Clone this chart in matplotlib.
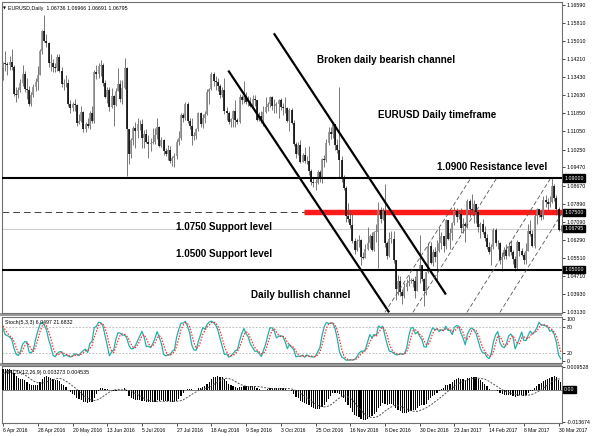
import numpy as np
import pandas as pd
import matplotlib
matplotlib.use("Agg")
import matplotlib.pyplot as plt
import matplotlib.transforms as mtransforms
from matplotlib.patches import Rectangle

# ---------------- data (EURUSD daily) ----------------
# warm-up bars before the visible window (needed for indicator history)
close_warm = [1.0890, 1.0920, 1.1105, 1.1210, 1.1155, 1.1165, 1.1285, 1.1290, 1.1325, 1.1255,
              1.1150, 1.1145, 1.1125, 1.1100, 1.1130, 1.1020, 1.1020, 1.1015, 1.1025, 1.0935,
              1.0875, 1.0870, 1.0865, 1.0955, 1.1005, 1.1010, 1.1005, 1.0995, 1.1180, 1.1150,
              1.1105, 1.1095, 1.1225, 1.1315, 1.1270, 1.1240, 1.1220, 1.1180, 1.1180, 1.1165,
              1.1195, 1.1300, 1.1335, 1.1380, 1.1390, 1.1390, 1.1380]
high_warm = [1.0900, 1.0935, 1.1115, 1.1215, 1.1245, 1.1200, 1.1305, 1.1300, 1.1375, 1.1320,
             1.1255, 1.1190, 1.1160, 1.1140, 1.1140, 1.1065, 1.1045, 1.1030, 1.1045, 1.1070,
             1.0965, 1.0900, 1.0880, 1.0965, 1.1025, 1.1025, 1.1035, 1.1035, 1.1215, 1.1215,
             1.1155, 1.1150, 1.1240, 1.1340, 1.1335, 1.1275, 1.1245, 1.1225, 1.1190, 1.1185,
             1.1205, 1.1310, 1.1340, 1.1390, 1.1415, 1.1405, 1.1440]
low_warm = [1.0835, 1.0865, 1.0905, 1.1080, 1.1130, 1.1090, 1.1150, 1.1200, 1.1270, 1.1230,
            1.1140, 1.1115, 1.1110, 1.1070, 1.1070, 1.1005, 1.0990, 1.0960, 1.0985, 1.0920,
            1.0860, 1.0855, 1.0820, 1.0860, 1.0925, 1.0990, 1.0990, 1.0965, 1.0820, 1.1100,
            1.1090, 1.1065, 1.1055, 1.1215, 1.1255, 1.1235, 1.1160, 1.1170, 1.1145, 1.1160,
            1.1160, 1.1175, 1.1290, 1.1310, 1.1345, 1.1375, 1.1360]

# 6 Apr 2016 - 30 Jun 2016
close_q2_2016 = [1.1405, 1.1400, 1.1395, 1.1410, 1.1385, 1.1270, 1.1265, 1.1285, 1.1315, 1.1355,
                 1.1290, 1.1285, 1.1225, 1.1265, 1.1300, 1.1320, 1.1350, 1.1455,
                 1.1545, 1.1500, 1.1490, 1.1405, 1.1405, 1.1385, 1.1380, 1.1430, 1.1370, 1.1310,
                 1.1315, 1.1315, 1.1225, 1.1205, 1.1225, 1.1220, 1.1140, 1.1150, 1.1190, 1.1115,
                 1.1135, 1.1130,
                 1.1185, 1.1150, 1.1365, 1.1355, 1.1390, 1.1395, 1.1315, 1.1255, 1.1285, 1.1210,
                 1.1260, 1.1220, 1.1280, 1.1310, 1.1245, 1.1295, 1.1380, 1.1115, 1.1005, 1.1065,
                 1.1120, 1.1105]
high_q2_2016 = [1.1410, 1.1455, 1.1410, 1.1435, 1.1465, 1.1395, 1.1300, 1.1300, 1.1335, 1.1395,
                1.1370, 1.1340, 1.1305, 1.1275, 1.1310, 1.1340, 1.1390, 1.1465,
                1.1550, 1.1616, 1.1530, 1.1495, 1.1445, 1.1420, 1.1405, 1.1445, 1.1445, 1.1385,
                1.1335, 1.1350, 1.1335, 1.1240, 1.1235, 1.1245, 1.1225, 1.1180, 1.1215, 1.1195,
                1.1145, 1.1165,
                1.1195, 1.1215, 1.1375, 1.1395, 1.1405, 1.1415, 1.1405, 1.1330, 1.1300, 1.1300,
                1.1295, 1.1265, 1.1295, 1.1380, 1.1330, 1.1330, 1.1425, 1.1385, 1.1110, 1.1075,
                1.1130, 1.1145]
low_q2_2016 = [1.1330, 1.1370, 1.1350, 1.1375, 1.1375, 1.1260, 1.1235, 1.1250, 1.1275, 1.1305,
               1.1275, 1.1245, 1.1215, 1.1215, 1.1255, 1.1280, 1.1285, 1.1355,
               1.1445, 1.1495, 1.1475, 1.1385, 1.1370, 1.1365, 1.1365, 1.1370, 1.1365, 1.1300,
               1.1285, 1.1300, 1.1215, 1.1185, 1.1195, 1.1195, 1.1130, 1.1135, 1.1145, 1.1100,
               1.1100, 1.1120,
               1.1115, 1.1140, 1.1140, 1.1335, 1.1340, 1.1345, 1.1305, 1.1250, 1.1230, 1.1195,
               1.1205, 1.1130, 1.1215, 1.1290, 1.1235, 1.1225, 1.1290, 1.0910, 1.0960, 1.0990,
               1.1045, 1.1030]

# 1 Jul 2016 - 30 Sep 2016
close_q3_2016 = [1.1135, 1.1135, 1.1075, 1.1095, 1.1060, 1.1050, 1.1055, 1.1060, 1.1090, 1.1125,
                 1.1040, 1.1065, 1.1020, 1.1005, 1.1025, 1.0975, 1.0990, 1.0995, 1.1060, 1.1075,
                 1.1175,
                 1.1165, 1.1225, 1.1150, 1.1130, 1.1085, 1.1085, 1.1115, 1.1185, 1.1135, 1.1165,
                 1.1180, 1.1275, 1.1290, 1.1355, 1.1325, 1.1320, 1.1305, 1.1265, 1.1285, 1.1195,
                 1.1185, 1.1145, 1.1160,
                 1.1195, 1.1155, 1.1145, 1.1255, 1.1240, 1.1260, 1.1235, 1.1235, 1.1215, 1.1245,
                 1.1240, 1.1155, 1.1170, 1.1155, 1.1190, 1.1210, 1.1225, 1.1255, 1.1215, 1.1215,
                 1.1225, 1.1240]
high_q3_2016 = [1.1165, 1.1155, 1.1160, 1.1110, 1.1115, 1.1090, 1.1075, 1.1120, 1.1120, 1.1165,
                1.1130, 1.1080, 1.1070, 1.1030, 1.1045, 1.1040, 1.0995, 1.1010, 1.1070, 1.1105,
                1.1185,
                1.1185, 1.1235, 1.1235, 1.1165, 1.1165, 1.1100, 1.1120, 1.1190, 1.1190, 1.1180,
                1.1195, 1.1290, 1.1295, 1.1365, 1.1365, 1.1345, 1.1340, 1.1310, 1.1300, 1.1340,
                1.1210, 1.1195, 1.1165,
                1.1200, 1.1240, 1.1165, 1.1270, 1.1265, 1.1325, 1.1275, 1.1260, 1.1255, 1.1265,
                1.1265, 1.1240, 1.1190, 1.1195, 1.1215, 1.1255, 1.1235, 1.1260, 1.1260, 1.1245,
                1.1235, 1.1245]
low_q3_2016 = [1.1075, 1.1110, 1.1030, 1.1030, 1.1055, 1.0990, 1.1020, 1.1050, 1.1050, 1.1070,
               1.1035, 1.1035, 1.1000, 1.0995, 1.0980, 1.0965, 1.0955, 1.0950, 1.0985, 1.1045,
               1.1065,
               1.1145, 1.1155, 1.1140, 1.1115, 1.1045, 1.1065, 1.1070, 1.1105, 1.1125, 1.1120,
               1.1140, 1.1175, 1.1225, 1.1285, 1.1305, 1.1285, 1.1280, 1.1250, 1.1255, 1.1180,
               1.1155, 1.1135, 1.1125,
               1.1125, 1.1125, 1.1135, 1.1140, 1.1225, 1.1230, 1.1225, 1.1215, 1.1210, 1.1215,
               1.1215, 1.1150, 1.1150, 1.1140, 1.1130, 1.1185, 1.1195, 1.1210, 1.1200, 1.1185,
               1.1185, 1.1165]

# 3 Oct 2016 - 30 Dec 2016
close_q4_2016 = [1.1210, 1.1205, 1.1205, 1.1150, 1.1200, 1.1140, 1.1050, 1.1005, 1.1045, 1.0970,
                 1.1000, 1.0975, 1.0975, 1.0930, 1.0885, 1.0880, 1.0880, 1.0925, 1.0895, 1.0985,
                 1.0980,
                 1.1055, 1.1100, 1.1095, 1.1135, 1.1045, 1.1025, 1.0980, 1.0895, 1.0855, 1.0735,
                 1.0720, 1.0695, 1.0625, 1.0585, 1.0625, 1.0630, 1.0555, 1.0550, 1.0590, 1.0615,
                 1.0645, 1.0585,
                 1.0665, 1.0665, 1.0760, 1.0720, 1.0755, 1.0615, 1.0560, 1.0635, 1.0635, 1.0540,
                 1.0415, 1.0450, 1.0400, 1.0385, 1.0425, 1.0440, 1.0450, 1.0455, 1.0450, 1.0405,
                 1.0495, 1.0520]
high_q4_2016 = [1.1250, 1.1230, 1.1255, 1.1210, 1.1205, 1.1205, 1.1155, 1.1060, 1.1060, 1.1065,
                1.1010, 1.1035, 1.0995, 1.1040, 1.0940, 1.0905, 1.0895, 1.0935, 1.0935, 1.0990,
                1.1000,
                1.1070, 1.1125, 1.1125, 1.1145, 1.1060, 1.1070, 1.1300, 1.0995, 1.0915, 1.0865,
                1.0790, 1.0750, 1.0745, 1.0640, 1.0635, 1.0650, 1.0635, 1.0575, 1.0610, 1.0685,
                1.0655, 1.0665,
                1.0670, 1.0700, 1.0795, 1.0775, 1.0770, 1.0875, 1.0625, 1.0665, 1.0670, 1.0670,
                1.0495, 1.0475, 1.0470, 1.0415, 1.0440, 1.0460, 1.0475, 1.0465, 1.0465, 1.0470,
                1.0500, 1.0650]
low_q4_2016 = [1.1200, 1.1175, 1.1185, 1.1145, 1.1105, 1.1135, 1.1040, 1.0990, 1.1000, 1.0965,
               1.0970, 1.0965, 1.0960, 1.0915, 1.0870, 1.0860, 1.0850, 1.0875, 1.0885, 1.0880,
               1.0950,
               1.0970, 1.1045, 1.1070, 1.1075, 1.1025, 1.1010, 1.0905, 1.0885, 1.0850, 1.0710,
               1.0710, 1.0680, 1.0615, 1.0570, 1.0580, 1.0600, 1.0520, 1.0545, 1.0550, 1.0585,
               1.0595, 1.0580,
               1.0580, 1.0620, 1.0505, 1.0705, 1.0715, 1.0600, 1.0545, 1.0555, 1.0615, 1.0530,
               1.0365, 1.0390, 1.0385, 1.0350, 1.0375, 1.0405, 1.0430, 1.0440, 1.0425, 1.0375,
               1.0405, 1.0440]

# 2 Jan 2017 - 31 Mar 2017
close_q1_2017 = [1.0460, 1.0405, 1.0490, 1.0605, 1.0530, 1.0575, 1.0555, 1.0580, 1.0615, 1.0645,
                 1.0605, 1.0715, 1.0635, 1.0660, 1.0705, 1.0755, 1.0730, 1.0745, 1.0680, 1.0700,
                 1.0690, 1.0800,
                 1.0765, 1.0760, 1.0785, 1.0750, 1.0685, 1.0700, 1.0665, 1.0640, 1.0600, 1.0575,
                 1.0600, 1.0675, 1.0615, 1.0615, 1.0540, 1.0555, 1.0585, 1.0560, 1.0605, 1.0575,
                 1.0545, 1.0505, 1.0620, 1.0580, 1.0565, 1.0540, 1.0580, 1.0670, 1.0655, 1.0605,
                 1.0735, 1.0765, 1.0740, 1.0730, 1.0805, 1.0795, 1.0785, 1.0795, 1.0865, 1.0815,
                 1.0765, 1.06736, 1.06795]
high_q1_2017 = [1.0495, 1.0465, 1.0490, 1.0615, 1.0620, 1.0590, 1.0600, 1.0630, 1.0685, 1.0665,
                1.0635, 1.0720, 1.0715, 1.0680, 1.0710, 1.0775, 1.0770, 1.0760, 1.0770, 1.0725,
                1.0710, 1.0810,
                1.0810, 1.0830, 1.0805, 1.0780, 1.0760, 1.0710, 1.0720, 1.0690, 1.0655, 1.0620,
                1.0610, 1.0680, 1.0680, 1.0630, 1.0620, 1.0575, 1.0600, 1.0610, 1.0620, 1.0630,
                1.0585, 1.0560, 1.0630, 1.0610, 1.0595, 1.0575, 1.0615, 1.0700, 1.0715, 1.0675,
                1.0745, 1.0770, 1.0765, 1.0755, 1.0820, 1.0825, 1.0815, 1.0820, 1.0905, 1.0875,
                1.0825, 1.0775, 1.06966]
low_q1_2017 = [1.0450, 1.0340, 1.0390, 1.0485, 1.0525, 1.0515, 1.0535, 1.0455, 1.0575, 1.0590,
               1.0575, 1.0590, 1.0630, 1.0590, 1.0630, 1.0695, 1.0710, 1.0720, 1.0660, 1.0660,
               1.0620, 1.0680,
               1.0730, 1.0750, 1.0705, 1.0705, 1.0665, 1.0640, 1.0655, 1.0625, 1.0590, 1.0570,
               1.0520, 1.0590, 1.0605, 1.0590, 1.0525, 1.0495, 1.0545, 1.0545, 1.0560, 1.0565,
               1.0525, 1.0495, 1.0500, 1.0560, 1.0560, 1.0525, 1.0525, 1.0580, 1.0645, 1.0600,
               1.0595, 1.0700, 1.0730, 1.0715, 1.0720, 1.0775, 1.0760, 1.0775, 1.0790, 1.0800,
               1.0740, 1.0670, 1.06691]
first_open = 1.0865

date_labels = ["6 Apr 2016", "28 Apr 2016", "20 May 2016", "13 Jun 2016", "5 Jul 2016",
               "27 Jul 2016", "18 Aug 2016", "9 Sep 2016", "3 Oct 2016", "25 Oct 2016",
               "16 Nov 2016", "8 Dec 2016", "30 Dec 2016", "23 Jan 2017", "14 Feb 2017",
               "8 Mar 2017", "30 Mar 2017"]
price_ticks = [1.16590, 1.15810, 1.15010, 1.14210, 1.13430, 1.12630, 1.11850, 1.11050,
               1.10250, 1.09470, 1.08670, 1.07890, 1.07090, 1.06290, 1.05510, 1.04710,
               1.03930, 1.03130]
level_prices = [1.09000, 1.07500, 1.05000]
last_price = 1.06795
macd_range = [-0.013674, 0.009528]

# user-drawn trend lines (bar index, price)
bear_line_1 = [(103.8, 1.1371), (177.9, 1.0313)]
bear_line_2 = [(124.8, 1.1534), (204.1, 1.0391)]
bull_channel = [[(176.0, 1.0313), (215.7, 1.0902)],
                [(188.9, 1.0313), (227.6, 1.0902)],
                [(213.8, 1.0313), (252.5, 1.0902)],
                [(229.0, 1.0313), (258.1, 1.0754)]]

# ---------------- assemble ----------------
close_all = np.array(close_warm + close_q2_2016 + close_q3_2016 + close_q4_2016 + close_q1_2017)
high_all = np.array(high_warm + high_q2_2016 + high_q3_2016 + high_q4_2016 + high_q1_2017)
low_all = np.array(low_warm + low_q2_2016 + low_q3_2016 + low_q4_2016 + low_q1_2017)
open_all = np.concatenate([[first_open], close_all[:-1]])
high_all = np.maximum(high_all, np.maximum(open_all, close_all))
low_all = np.minimum(low_all, np.minimum(open_all, close_all))

nw = len(close_warm)
cs = pd.Series(close_all)
hs = pd.Series(high_all)
ls = pd.Series(low_all)
# Stochastic (5,3,3), MetaTrader style
ll = ls.rolling(5).min()
hh = hs.rolling(5).max()
k = 100 * (cs - ll).rolling(3).sum() / (hh - ll).rolling(3).sum()
d = k.rolling(3).mean()
# MACD (12,26,9), MetaTrader style (signal = SMA)
macd = cs.ewm(span=12, adjust=False).mean() - cs.ewm(span=26, adjust=False).mean()
sig = macd.rolling(9).mean()

o = open_all[nw:]; c = close_all[nw:]; h = high_all[nw:]; l = low_all[nw:]
k = k.values[nw:]; d = d.values[nw:]; macd = macd.values[nw:]; sig = sig.values[nw:]
x = np.arange(len(c))

# ---------------- figure ----------------
W, H = 600, 436
fig = plt.figure(figsize=(6, 4.36), dpi=100)
fig.patch.set_facecolor("white")
def ax_at(top, bottom):
    return fig.add_axes([2 / W, 1 - bottom / H, 560 / W, (bottom - top) / H])
ax1 = ax_at(2, 313.0)
ax2 = ax_at(316.5, 362.5)
ax3 = ax_at(366.0, 423)

# splitters between the sub-windows
for top, bot in ((313.0, 316.5), (362.5, 366.0)):
    fig.add_artist(Rectangle((0, 1 - bot / H), 562 / W, (bot - top) / H,
                             transform=fig.transFigure, fc="#9a9a9a", ec="none", zorder=0))

SF = ["Liberation Sans", "DejaVu Sans"]
xlim = (-0.5, len(c) - 0.4)
small = 3.8
for ax in (ax1, ax2, ax3):
    ax.set_xlim(*xlim)
    for s in ax.spines.values():
        s.set_color("#707070")
        s.set_linewidth(0.8)
    ax.yaxis.tick_right()
    ax.tick_params(axis="y", length=2, width=0.5, labelsize=small, pad=1.5, colors="black")
    ax.set_facecolor("white")
ax1.set_xticks([]); ax2.set_xticks([])

# main price panel
ax1.set_ylim(1.0310, 1.1671)
bull = c >= o
body_lo = np.minimum(o, c); body_hi = np.maximum(o, c)
body_hi = np.where(body_hi - body_lo < 0.0002, body_lo + 0.0002, body_hi)
ax1.vlines(x, l, h, color="#555555", lw=0.55, zorder=3)
ax1.vlines(x[bull], body_lo[bull], body_hi[bull], color="#8a8a8a", lw=1.15, zorder=4)
ax1.vlines(x[~bull], body_lo[~bull], body_hi[~bull], color="black", lw=1.15, zorder=4)

ax1.set_yticks(price_ticks)
ax1.set_yticklabels([f"{p:.5f}" for p in price_ticks], family=SF)

# horizontal levels
ax1.axhline(level_prices[0], color="black", lw=1.5, zorder=5)
ax1.axhline(level_prices[2], color="black", lw=1.5, zorder=5)
ax1.axhline(level_prices[1], color="#404040", lw=0.7, ls=(0, (7, 4)), zorder=2)
ax1.axhline(last_price, color="#cfcfcf", lw=0.8, zorder=1)
ax1.plot([138.7, xlim[1]], [level_prices[1]] * 2, color="#ff1a1a", lw=3.9,
         solid_capstyle="butt", zorder=2.5)

for ln in (bear_line_1, bear_line_2):
    ax1.plot([ln[0][0], ln[1][0]], [ln[0][1], ln[1][1]], color="black", lw=1.6, zorder=6,
             solid_capstyle="butt")
for ln in bull_channel:
    ax1.plot([ln[0][0], ln[1][0]], [ln[0][1], ln[1][1]], color="#555555", lw=0.6,
             ls=(0, (5, 3)), zorder=6)

# price boxes on the scale
trans1 = mtransforms.blended_transform_factory(ax1.transAxes, ax1.transData)
for p in level_prices + [last_price]:
    ax1.text(1.004, p, f"{p:.5f}", transform=trans1, fontsize=small, color="white",
             family=SF, va="center", ha="left", clip_on=False, zorder=10,
             bbox=dict(boxstyle="square,pad=0.25", fc="black", ec="black"))

ax1.text(0.002, 0.979, "\u25bc", transform=ax1.transAxes, fontsize=2.8, va="center", ha="left")
ax1.text(0.011, 0.979, "EURUSD,Daily  1.06736 1.06966 1.06691 1.06795",
         transform=ax1.transAxes, fontsize=small, family=SF, va="center", ha="left")

bold = dict(family=SF, weight="bold", fontsize=7.1,
            color="black", va="center", ha="left", zorder=8)
ax1.text(144.7, 1.1417, "Broken daily bearish channel", **bold)
ax1.text(172.8, 1.1177, "EURUSD Daily timeframe", **bold)
ax1.text(200.0, 1.0950, "1.0900 Resistance level", **bold)
ax1.text(79.7, 1.0688, "1.0750 Support level", **bold)
ax1.text(79.7, 1.0570, "1.0500 Support level", **bold)
ax1.text(114.3, 1.0387, "Daily bullish channel", **bold)

# stochastic panel
ax2.set_ylim(-3, 106)
ax2.axhline(80, color="#b0b0b0", lw=0.6, ls=(0, (2, 2)))
ax2.axhline(20, color="#b0b0b0", lw=0.6, ls=(0, (2, 2)))
ax2.plot(x, k, color="#20b2aa", lw=0.9, zorder=3)
ax2.plot(x, d, color="#ff3030", lw=0.9, ls=(0, (1.2, 1.2)), zorder=4)
ax2.set_yticks([100, 80, 20, 0])
ax2.set_yticklabels(["100", "80", "20", "0"], family=SF)
ax2.text(0.006, 0.88, "Stoch(5,3,3) 6.0497 21.6832", transform=ax2.transAxes,
         fontsize=small, family=SF, va="center", ha="left")

# MACD panel
ax3.set_ylim(macd_range[0] - 0.0003, macd_range[1] + 0.0003)
ax3.bar(x, macd, width=0.55, color="black", zorder=3)
ax3.plot(x, sig, color="#505050", lw=0.7, ls=(0, (2, 1.5)), zorder=4)
ax3.axhline(0, color="#808080", lw=0.7, zorder=2)
ax3.set_yticks([macd_range[1], macd_range[0]])
ax3.set_yticklabels([f"{macd_range[1]:.6f}", f"{macd_range[0]:.6f}"], family=SF)
trans3 = mtransforms.blended_transform_factory(ax3.transAxes, ax3.transData)
ax3.text(1.004, 0.0, "0.00", transform=trans3, fontsize=small, color="white", family=SF,
         va="center", ha="left", clip_on=False,
         bbox=dict(boxstyle="square,pad=0.25", fc="black", ec="black"))
ax3.text(0.006, 0.88, "MACD(12,26,9) 0.003273 0.004535", transform=ax3.transAxes,
         fontsize=small, family=SF, va="center", ha="left", zorder=6)

ax3.set_xticks(np.arange(0, len(c), 16)[:len(date_labels)])
ax3.set_xticklabels(date_labels, ha="left", family=SF, fontsize=3.6)
ax3.tick_params(axis="x", length=2, width=0.5, pad=1.8)

fig.savefig("out.png", dpi=100, facecolor="white")
